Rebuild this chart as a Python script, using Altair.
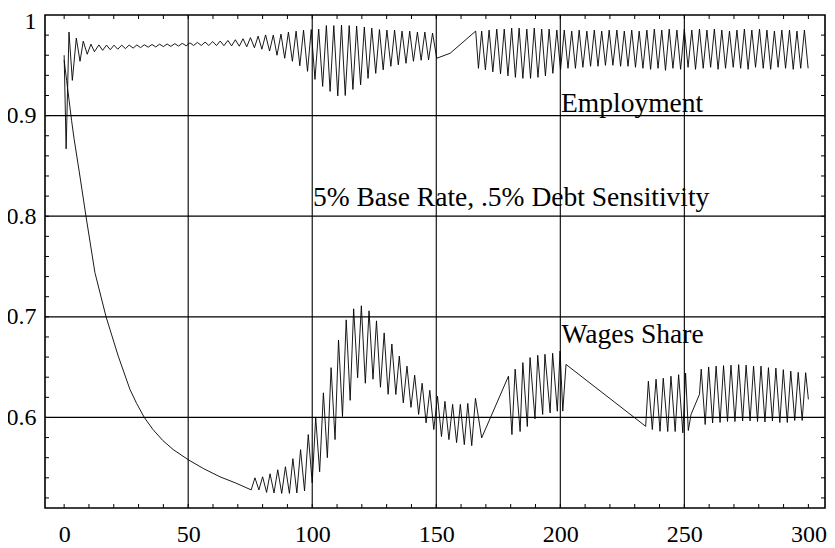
import altair as alt
import pandas as pd

# ---------------- Employment ----------------
emp_init_x = [0.0, 0.8, 1.95, 3.3, 4.9, 6.4, 7.7, 9.3, 10.8, 12.2]
emp_init_y = [0.960, 0.867, 0.983, 0.935, 0.977, 0.954, 0.974, 0.961, 0.971, 0.9635]

emp_calm_peak_x = [14.0, 17.1, 20.1, 23.2, 26.2, 29.3, 32.3, 35.4, 38.5, 41.5, 44.6, 47.6,
                   50.7, 53.7, 56.8, 59.9, 62.9, 66.0, 69.0, 72.1, 75.1, 78.2, 81.2]
emp_calm_peak_y = [0.9703, 0.9701, 0.9700, 0.9700, 0.9701, 0.9702, 0.9704, 0.9707, 0.9710,
                   0.9712, 0.9715, 0.9718, 0.9723, 0.9727, 0.9731, 0.9736, 0.9741, 0.9747,
                   0.9754, 0.9764, 0.9775, 0.9790, 0.9802]
emp_calm_trough_x = [15.5, 18.6, 21.6, 24.7, 27.8, 30.8, 33.9, 36.9, 40.0, 43.0, 46.1, 49.2,
                     52.2, 55.3, 58.3, 61.4, 64.4, 67.5, 70.6, 73.6, 76.7, 79.7, 82.8]
emp_calm_trough_y = [0.9649, 0.9655, 0.9660, 0.9666, 0.9671, 0.9676, 0.9680, 0.9683, 0.9686,
                     0.9688, 0.9691, 0.9694, 0.9697, 0.9697, 0.9697, 0.9696, 0.9695, 0.9693,
                     0.9690, 0.9684, 0.9675, 0.9660, 0.9642]

emp_swing_peak_x = [84.3, 87.4, 90.4, 93.5, 96.5, 99.6, 102.6, 105.7, 108.7, 111.8, 114.9,
                    117.9, 121.0, 124.0, 127.1, 130.1, 133.2, 136.2, 139.3, 142.4, 145.4, 148.5]
emp_swing_peak_y = [0.980, 0.981, 0.983, 0.984, 0.985, 0.9855, 0.986, 0.9895, 0.9895, 0.990,
                    0.9895, 0.989, 0.988, 0.987, 0.9855, 0.985, 0.985, 0.984, 0.984, 0.983,
                    0.983, 0.982]
emp_swing_trough_x = [85.8, 88.9, 92.0, 95.0, 98.1, 101.1, 104.2, 107.2, 110.3, 113.3, 116.4,
                      119.5, 122.5, 125.6, 128.6, 131.7, 134.7, 137.8, 140.8, 143.9, 146.9, 150.2]
emp_swing_trough_y = [0.960, 0.957, 0.954, 0.9495, 0.944, 0.936, 0.929, 0.924, 0.9196, 0.920,
                      0.926, 0.9306, 0.937, 0.942, 0.9455, 0.949, 0.9505, 0.952, 0.954, 0.955,
                      0.9555, 0.957]

emp_link_x = [155.6, 165.9, 167.0]
emp_link_y = [0.962, 0.984, 0.947]

emp_late_peak_x = [168.3, 171.3, 174.4, 177.4, 180.4, 183.4, 186.5, 189.5, 192.5, 195.5,
                   198.6, 201.6, 204.6, 207.6, 210.7, 213.7, 216.7, 219.7, 222.8, 225.8,
                   228.8, 231.8, 234.9, 237.9, 240.9, 243.9, 247.0, 250.0, 253.0, 256.1,
                   259.1, 262.1, 265.1, 268.2, 271.2, 274.2, 277.2, 280.3, 283.3, 286.3,
                   289.3, 292.4, 295.4, 298.4]
emp_late_peak_y = [0.984, 0.985, 0.986, 0.986, 0.987, 0.987, 0.986, 0.987, 0.986, 0.986,
                   0.985, 0.985, 0.984, 0.985, 0.984, 0.985, 0.984, 0.985, 0.985, 0.984,
                   0.985, 0.984, 0.985, 0.986, 0.985, 0.986, 0.985, 0.986, 0.985, 0.986,
                   0.985, 0.986, 0.985, 0.984, 0.985, 0.986, 0.985, 0.986, 0.985, 0.984,
                   0.985, 0.985, 0.984, 0.985]
emp_late_trough_x = [169.8, 172.8, 175.9, 178.9, 181.9, 184.9, 188.0, 191.0, 194.0, 197.0,
                     200.1, 203.1, 206.1, 209.1, 212.2, 215.2, 218.2, 221.2, 224.3, 227.3,
                     230.3, 233.3, 236.4, 239.4, 242.4, 245.4, 248.5, 251.5, 254.5, 257.6,
                     260.6, 263.6, 266.6, 269.7, 272.7, 275.7, 278.7, 281.8, 284.8, 287.8,
                     290.8, 293.9, 296.9, 299.9]
emp_late_trough_y = [0.9455, 0.9435, 0.9415, 0.9395, 0.938, 0.937, 0.937, 0.938, 0.9395, 0.942,
                     0.9455, 0.947, 0.947, 0.948, 0.949, 0.949, 0.950, 0.950, 0.949, 0.949,
                     0.948, 0.947, 0.946, 0.947, 0.945, 0.947, 0.946, 0.948, 0.946, 0.947,
                     0.948, 0.946, 0.947, 0.948, 0.947, 0.946, 0.948, 0.947, 0.946, 0.948,
                     0.947, 0.946, 0.947, 0.947]

# ---------------- Wages share ----------------
wage_decay_x = [0.0, 1.0, 2.0, 3.0, 4.0, 6.1, 8.8, 12.4, 16.9, 21.8, 26.5, 29.2, 32.3, 35.8,
                39.8, 44.0, 50.0, 56.3, 62.8, 69.0, 75.4]
wage_decay_y = [0.955, 0.935, 0.915, 0.895, 0.877, 0.844, 0.800, 0.744, 0.700, 0.661, 0.628,
                0.614, 0.600, 0.588, 0.577, 0.568, 0.558, 0.549, 0.541, 0.535, 0.528]

wage_swing_peak_x = [76.9, 80.0, 83.0, 86.1, 89.2, 92.2, 95.3, 98.4, 101.4, 104.5, 107.6,
                     110.6, 113.7, 116.7, 119.8, 122.9, 125.9, 129.0, 132.1, 135.1, 138.2,
                     141.3, 144.3, 147.4, 150.5, 153.5, 156.6, 159.7, 162.7, 165.8]
wage_swing_peak_y = [0.540, 0.541, 0.544, 0.548, 0.551, 0.559, 0.568, 0.583, 0.600, 0.6245,
                     0.6495, 0.677, 0.697, 0.708, 0.711, 0.706, 0.696, 0.684, 0.673, 0.661,
                     0.651, 0.642, 0.634, 0.627, 0.621, 0.616, 0.613, 0.613, 0.614, 0.619]
wage_swing_trough_x = [78.5, 81.6, 84.6, 87.7, 90.8, 93.8, 96.9, 100.0, 103.0, 106.1, 109.2,
                       112.2, 115.3, 118.3, 121.4, 124.5, 127.5, 130.6, 133.7, 136.7, 139.8,
                       142.9, 145.9, 149.0, 152.1, 155.1, 158.2, 161.3, 164.3, 168.3]
wage_swing_trough_y = [0.528, 0.5255, 0.525, 0.5245, 0.5245, 0.525, 0.527, 0.535, 0.546, 0.560,
                       0.578, 0.601, 0.617, 0.6395, 0.634, 0.638, 0.630, 0.623, 0.6228, 0.6145,
                       0.610, 0.603, 0.5946, 0.588, 0.581, 0.578, 0.575, 0.573, 0.572, 0.5797]

wage_mid_x = [179.1, 180.5, 181.8, 183.8, 184.9, 186.7, 187.8, 189.8, 190.9, 192.9,
              193.8, 195.9, 196.9, 198.8, 199.9, 201.0, 202.3, 234.4, 235.5, 237.1,
              238.6, 240.2, 241.5, 243.3, 244.6, 246.3, 247.7, 249.4, 250.5, 251.6,
              252.7, 256.1]
wage_mid_y = [0.641, 0.583, 0.648, 0.586, 0.6545, 0.591, 0.6595, 0.5986, 0.6618, 0.603,
              0.6628, 0.6045, 0.6638, 0.6062, 0.666, 0.6063, 0.6527, 0.5912, 0.636, 0.588,
              0.638, 0.5862, 0.639, 0.586, 0.641, 0.586, 0.6425, 0.5847, 0.644, 0.587,
              0.603, 0.623]

wage_late_peak_x = [256.8, 259.8, 262.8, 265.8, 268.8, 271.9, 274.9, 277.9, 280.9, 283.9,
                    286.9, 289.9, 292.9, 295.9, 298.9]
wage_late_peak_y = [0.648, 0.6502, 0.651, 0.6515, 0.652, 0.6525, 0.652, 0.651, 0.651, 0.6495,
                    0.649, 0.6475, 0.646, 0.6448, 0.6445]
wage_late_trough_x = [258.4, 261.4, 264.4, 267.4, 270.4, 273.5, 276.5, 279.5, 282.5, 285.5,
                      288.5, 291.5, 294.5, 297.5, 300.0]
wage_late_trough_y = [0.593, 0.5945, 0.595, 0.596, 0.596, 0.5965, 0.5965, 0.596, 0.5955, 0.5965,
                      0.595, 0.595, 0.597, 0.597, 0.618]

# ---------------- axes, grid, annotations ----------------
x_label_vals = [0, 50, 100, 150, 200, 250, 300]
y_label_vals = [0.6, 0.7, 0.8, 0.9, 1.0]
grid_x_vals = [50, 100, 150, 200, 250]
grid_y_vals = [0.6, 0.7, 0.8, 0.9]
x_tick_vals = [0, 10, 20, 30, 40, 50, 60, 70, 80, 90, 100, 110, 120, 130, 140, 150, 160, 170,
               180, 190, 200, 210, 220, 230, 240, 250, 260, 270, 280, 290, 300]
y_tick_vals = [0.52, 0.54, 0.56, 0.58, 0.60, 0.62, 0.64, 0.66, 0.68, 0.70, 0.72, 0.74, 0.76,
               0.78, 0.80, 0.82, 0.84, 0.86, 0.88, 0.90, 0.92, 0.94, 0.96, 0.98]
note_text = ["Employment", "5% Base Rate, .5% Debt Sensitivity", "Wages Share"]
note_x = [200.3, 100.3, 200.5]
note_y = [0.9037, 0.8103, 0.6737]


def build(series, parts):
    xs_, ys_ = [], []
    for px, py in parts:
        xs_ += list(px)
        ys_ += list(py)
    df = pd.DataFrame({"t": xs_, "v": ys_}).sort_values("t").reset_index(drop=True)
    df["series"] = series
    df["order"] = range(len(df))
    return df


emp = build("Employment", [(emp_init_x, emp_init_y),
                           (emp_calm_peak_x, emp_calm_peak_y),
                           (emp_calm_trough_x, emp_calm_trough_y),
                           (emp_swing_peak_x, emp_swing_peak_y),
                           (emp_swing_trough_x, emp_swing_trough_y),
                           (emp_link_x, emp_link_y),
                           (emp_late_peak_x, emp_late_peak_y),
                           (emp_late_trough_x, emp_late_trough_y)])
wage = build("Wages Share", [(wage_decay_x, wage_decay_y),
                             (wage_swing_peak_x, wage_swing_peak_y),
                             (wage_swing_trough_x, wage_swing_trough_y),
                             (wage_mid_x, wage_mid_y),
                             (wage_late_peak_x, wage_late_peak_y),
                             (wage_late_trough_x, wage_late_trough_y)])
lines_df = pd.concat([emp, wage], ignore_index=True)

W, H = 780, 493
FONT = "Liberation Serif"
xs = alt.Scale(domain=[-7.72, 306.7], nice=False, zero=False)
ys = alt.Scale(domain=[0.51, 1.0], nice=False, zero=False)

x_axis = alt.Axis(values=x_label_vals, title=None, grid=False, ticks=False,
                  domain=False, labelFont=FONT, labelFontSize=24,
                  labelColor="black", labelPadding=14, labelFlush=False)
y_axis = alt.Axis(values=y_label_vals, title=None, grid=False, ticks=False,
                  domain=False, labelFont=FONT, labelFontSize=24,
                  labelColor="black", labelPadding=9,
                  labelFlush=True, labelFlushOffset=6,
                  labelExpr="datum.value == 1 ? '1' : format(datum.value, '.1f')")


def X(field):
    return alt.X(field, scale=xs, axis=x_axis, title=None)


def Y(field):
    return alt.Y(field, scale=ys, axis=y_axis, title=None)


lines = alt.Chart(lines_df).mark_line(color="black", strokeWidth=0.9).encode(
    x=X("t:Q"), y=Y("v:Q"), detail="series:N", order="order:Q")

gx = alt.Chart(pd.DataFrame({"t": grid_x_vals})).mark_rule(color="black", strokeWidth=1.1).encode(
    x=X("t:Q"))
gy = alt.Chart(pd.DataFrame({"v": grid_y_vals})).mark_rule(color="black", strokeWidth=1.3).encode(
    y=Y("v:Q"))

ytick = pd.DataFrame({"v": y_tick_vals})
xtick = pd.DataFrame({"t": x_tick_vals})
tl = alt.Chart(ytick).mark_rule(color="black", strokeWidth=1).encode(
    y=Y("v:Q"), x=alt.value(0), x2=alt.value(4))
tr = alt.Chart(ytick).mark_rule(color="black", strokeWidth=1).encode(
    y=Y("v:Q"), x=alt.value(W - 4), x2=alt.value(W))
tb = alt.Chart(xtick).mark_rule(color="black", strokeWidth=1).encode(
    x=X("t:Q"), y=alt.value(H - 4), y2=alt.value(H))
tt = alt.Chart(xtick).mark_rule(color="black", strokeWidth=1).encode(
    x=X("t:Q"), y=alt.value(0), y2=alt.value(4))

notes = alt.Chart(pd.DataFrame({"label": note_text, "t": note_x, "v": note_y})).mark_text(
    align="left", baseline="alphabetic", font=FONT, fontSize=27.5, color="black").encode(
    x=X("t:Q"), y=Y("v:Q"), text="label:N")

chart = alt.layer(lines, gx, gy, tl, tr, tb, tt, notes).properties(
    width=W, height=H,
    autosize=alt.AutoSizeParams(type="none"),
    padding={"left": 37, "top": 7, "right": 2, "bottom": 38},
    background="white",
).configure_view(stroke="black", strokeWidth=1.6)

chart.save("out.html", embed_options={"renderer": "svg", "actions": False})
